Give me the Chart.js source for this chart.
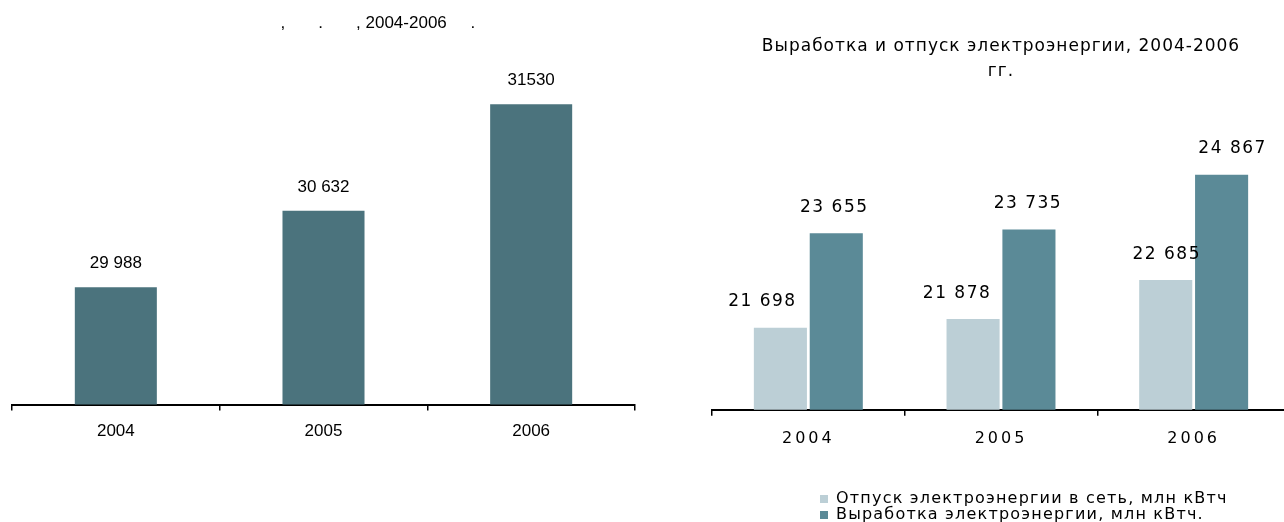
<!DOCTYPE html>
<html>
<head>
<meta charset="utf-8">
<script src="https://cdn.jsdelivr.net/npm/chart.js@4.4.0/dist/chart.umd.min.js"></script>
<style>
  html, body { margin: 0; padding: 0; background: #fff; overflow: hidden; }
  body { width: 1284px; height: 522px; position: relative; }
  #leftChart { position: absolute; left: 0; top: 0; }
  #rightChart { position: absolute; left: 700px; top: 0; }
  #legend {
    position: absolute; left: 820px; top: 490px;
    font-family: "DejaVu Sans"; font-size: 16px; letter-spacing: 1.2px;
    line-height: 16px; color: #000;
  }
  #legend .item { white-space: nowrap; }
  #legend .sw { display: inline-block; width: 8px; height: 8px; margin-right: 8px; }
</style>
</head>
<body>
<canvas id="leftChart" width="651" height="522"></canvas>
<canvas id="rightChart" width="610" height="522"></canvas>
<div id="legend"></div>

<script>
// ---- data ----
const years = ['2004', '2005', '2006'];

// left chart
const leftValues = [29988, 30632, 31530];
const leftValueText = ['29 988', '30 632', '31530'];
const leftTitle = ' '.repeat(23) + ',' + ' '.repeat(7) + '.' + ' '.repeat(7) + ', 2004-2006' + ' '.repeat(5) + '.';

// right chart
const supplyLabel = 'Отпуск электроэнергии в сеть, млн кВтч';
const supplyValues = [21698, 21878, 22685];
const productionLabel = 'Выработка электроэнергии, млн кВтч.';
const productionValues = [23655, 23735, 24867];
const rightTitle = ['Выработка и отпуск электроэнергии, 2004-2006', 'гг.'];

// value labels in the original are not exactly centred over the bars
const rightLabelShift = [[-18, -16, 1], [-2, -1, 11]];

// "21698" -> "21 698"
function groupDigits(v) {
  return String(v).replace(/\B(?=(\d{3})+(?!\d))/g, ' ');
}

// draws the numbers above the bars, then leaves letter spacing for the tick labels
const valueLabels = {
  id: 'valueLabels',
  beforeDraw(chart, args, opts) {
    chart.ctx.letterSpacing = opts.titleSpacing || '0px';
  },
  afterDatasetsDraw(chart, args, opts) {
    const ctx = chart.ctx;
    ctx.save();
    ctx.font = opts.font;
    ctx.letterSpacing = opts.spacing || '0px';
    ctx.fillStyle = '#000';
    ctx.textAlign = 'center';
    ctx.textBaseline = 'middle';
    chart.data.datasets.forEach((ds, i) => {
      const meta = chart.getDatasetMeta(i);
      meta.data.forEach((bar, j) => {
        const text = opts.texts ? opts.texts[i][j] : groupDigits(ds.data[j]);
        const shift = opts.shift ? opts.shift[i][j] : 0;
        ctx.fillText(text, bar.x + shift, bar.y - opts.lift);
      });
    });
    ctx.restore();
    ctx.letterSpacing = opts.tickSpacing || '0px';
  }
};

// ---- left chart ----
new Chart(document.getElementById('leftChart'), {
  type: 'bar',
  data: {
    labels: years,
    datasets: [{
      data: leftValues,
      backgroundColor: '#4b737d',
      barPercentage: 0.395,
      categoryPercentage: 1
    }]
  },
  options: {
    responsive: false,
    animation: false,
    layout: { padding: { left: 12, right: 16, top: 0, bottom: 69 } },
    plugins: {
      legend: { display: false },
      tooltip: { enabled: false },
      title: {
        display: true,
        text: leftTitle,
        color: '#000',
        font: { family: 'Liberation Sans', size: 17, weight: 'normal' },
        padding: { top: 13, bottom: 15 }
      },
      valueLabels: {
        font: '17px "Liberation Sans"',
        texts: [leftValueText],
        lift: 24
      }
    },
    scales: {
      x: {
        grid: { drawOnChartArea: false, drawTicks: true, tickLength: 6, color: '#000', lineWidth: 1.5, offset: true },
        border: { display: true, color: '#000', width: 2 },
        ticks: { color: '#000', font: { family: 'Liberation Sans', size: 17 }, padding: 11 }
      },
      y: { display: false, min: 29000, max: 32000 }
    }
  },
  plugins: [valueLabels]
});

// ---- right chart ----
const rightChart = new Chart(document.getElementById('rightChart'), {
  type: 'bar',
  data: {
    labels: years,
    datasets: [
      { label: supplyLabel, data: supplyValues, backgroundColor: '#bccfd6', barPercentage: 0.95, categoryPercentage: 0.58 },
      { label: productionLabel, data: productionValues, backgroundColor: '#5b8a97', barPercentage: 0.95, categoryPercentage: 0.58 }
    ]
  },
  options: {
    responsive: false,
    animation: false,
    layout: { padding: { left: 12, right: 20, top: 0, bottom: 61 } },
    plugins: {
      legend: { display: false },
      tooltip: { enabled: false },
      title: {
        display: true,
        text: rightTitle,
        color: '#000',
        font: { family: 'DejaVu Sans', size: 17, weight: 'normal', lineHeight: 1.47 },
        padding: { top: 34, bottom: 36 }
      },
      valueLabels: {
        font: '17px "DejaVu Sans"',
        spacing: '1.5px',
        titleSpacing: '1px',
        tickSpacing: '3px',
        shift: rightLabelShift,
        lift: 26
      }
    },
    scales: {
      x: {
        grid: { drawOnChartArea: false, drawTicks: true, tickLength: 6, color: '#000', lineWidth: 1.5, offset: true },
        border: { display: true, color: '#000', width: 2 },
        ticks: { color: '#000', font: { family: 'DejaVu Sans', size: 16 }, padding: 13, z: 1 }
      },
      y: { display: false, min: 20000, max: 26000 }
    }
  },
  plugins: [valueLabels]
});

// html legend, stacked like the original
const legendBox = document.getElementById('legend');
rightChart.data.datasets.forEach(ds => {
  const item = document.createElement('div');
  item.className = 'item';
  item.innerHTML = '<span class="sw" style="background:' + ds.backgroundColor + '"></span>' + ds.label;
  legendBox.appendChild(item);
});
</script>
</body>
</html>
